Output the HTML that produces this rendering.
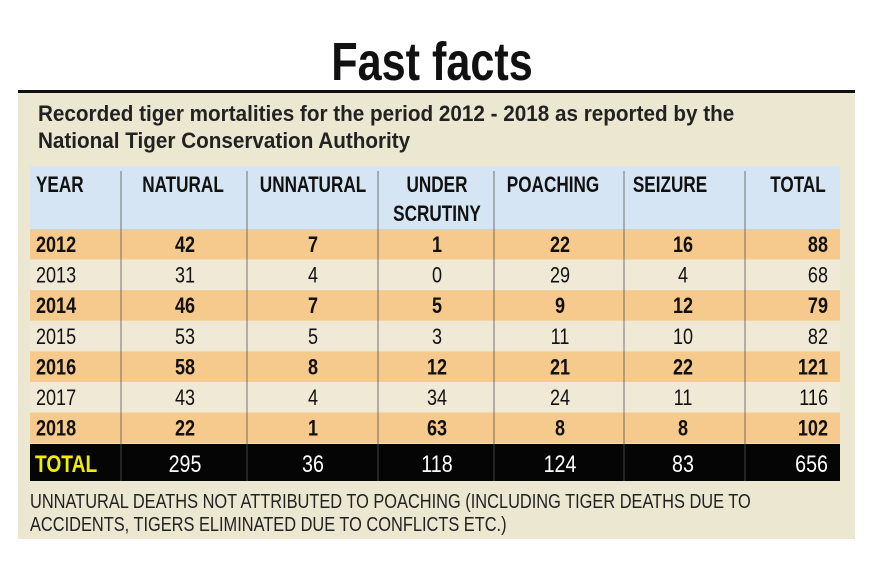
<!DOCTYPE html>
<html><head><meta charset="utf-8"><style>
html,body{margin:0;padding:0;background:#fff;}
svg{display:block;font-family:"Liberation Sans",sans-serif;}
</style></head><body>
<svg id="chart" width="873" height="567" viewBox="0 0 873 567" xmlns="http://www.w3.org/2000/svg">
<rect x="18" y="92" width="837" height="447" fill="#ece7d1"/>
<rect x="18" y="90" width="837" height="3" fill="#111"/>
<text x="432" y="80" text-anchor="middle" font-size="54" font-weight="bold" fill="#111" transform="translate(432,0) scale(0.8,1) translate(-432,0)">Fast facts</text>
<text x="38" y="121" font-size="22" font-weight="bold" fill="#222" transform="translate(38,0) scale(0.94,1) translate(-38,0)">Recorded tiger mortalities for the period 2012 - 2018 as reported by the</text>
<text x="38" y="148" font-size="22" font-weight="bold" fill="#222" transform="translate(38,0) scale(0.94,1) translate(-38,0)">National Tiger Conservation Authority</text>
<rect x="30" y="166" width="810" height="63" fill="#d5e5f3"/>
<g id="rows"></g>
<g id="dividers"></g>
<g id="texts"></g>
<text x="30" y="508" font-size="20" fill="#222" transform="translate(30,0) scale(0.82,1) translate(-30,0)">UNNATURAL DEATHS NOT ATTRIBUTED TO POACHING (INCLUDING TIGER DEATHS DUE TO</text>
<text x="30" y="531" font-size="20" fill="#222" transform="translate(30,0) scale(0.82,1) translate(-30,0)">ACCIDENTS, TIGERS ELIMINATED DUE TO CONFLICTS ETC.)</text>
</svg>
<script>
const years = ["2012","2013","2014","2015","2016","2017","2018"];
const natural = [42,31,46,53,58,43,22];
const unnatural = [7,4,7,5,8,4,1];
const underScrutiny = [1,0,5,3,12,34,63];
const poaching = [22,29,9,11,21,24,8];
const seizure = [16,4,12,10,22,11,8];
const totals = [88,68,79,82,121,116,102];
const columnTotals = [295,36,118,124,83,656];
const headers = ["YEAR","NATURAL","UNNATURAL","UNDER","POACHING","SEIZURE","TOTAL"];

const NS="http://www.w3.org/2000/svg";
const colEdges=[30,121,247,378,494,624,745,840];
const rowTop=229, rowH=30.6, totalTop=444, totalH=37;
function txt(parent,s,x,y,opts){
  const t=document.createElementNS(NS,"text");
  t.setAttribute("x",x);t.setAttribute("y",y);
  t.setAttribute("font-size",opts.size||22);
  if(opts.bold)t.setAttribute("font-weight","bold");
  t.setAttribute("fill",opts.fill||"#111");
  t.setAttribute("text-anchor",opts.anchor||"middle");
  t.setAttribute("transform",`translate(${x},0) scale(${opts.sx||0.82},1) translate(${-x},0)`);
  t.textContent=s;parent.appendChild(t);return t;
}
const rowsG=document.getElementById("rows"),divG=document.getElementById("dividers"),tG=document.getElementById("texts");
years.forEach((y,i)=>{
  const r=document.createElementNS(NS,"rect");
  r.setAttribute("x",30);r.setAttribute("y",rowTop+i*rowH);r.setAttribute("width",810);r.setAttribute("height",rowH);
  r.setAttribute("fill",i%2===0?"#f6c98d":"#efe9d6");
  
  
  rowsG.appendChild(r);
});
const tr=document.createElementNS(NS,"rect");
tr.setAttribute("x",30);tr.setAttribute("y",totalTop);tr.setAttribute("width",810);tr.setAttribute("height",totalH);tr.setAttribute("fill","#050505");


rowsG.appendChild(tr);
colEdges.slice(1,-1).forEach((x,i)=>{
  const l=document.createElementNS(NS,"line");
  l.setAttribute("x1",x);l.setAttribute("x2",x);l.setAttribute("y1",171);l.setAttribute("y2",totalTop+totalH);
  l.setAttribute("stroke","#555");l.setAttribute("stroke-width","0.8");
  
  
  divG.appendChild(l);
});
const hx=[36,183,313,437,553,670,798];
headers.forEach((h,i)=>{
  const t=txt(tG,h,hx[i],192,{bold:true,size:22,anchor:i===0?"start":"middle",sx:0.78});
  
  
});
const st=txt(tG,"SCRUTINY",437,221,{bold:true,size:22,sx:0.78});


const cx=[185,313,437,560,683];
const series=[natural,unnatural,underScrutiny,poaching,seizure];
years.forEach((y,i)=>{
  const by=rowTop+i*rowH+23;
  const bold=i%2===0;
  const yt=txt(tG,y,36,by,{bold,size:22,anchor:"start"});
  
  
  series.forEach((s,j)=>{
    const c=txt(tG,String(s[i]),cx[j],by,{bold,size:22});
    
    
  });
  const tt=txt(tG,String(totals[i]),828,by,{bold,size:22,anchor:"end"});
  
  
});
const tl=txt(tG,"TOTAL",35,totalTop+28,{bold:true,size:24,anchor:"start",fill:"#f2ee00",sx:0.8});


columnTotals.forEach((v,j)=>{
  const x=j<5?cx[j]:828;
  const c=txt(tG,String(v),x,totalTop+28,{size:24,anchor:j<5?"middle":"end",fill:"#fff"});
  
  
});
</script>
</body></html>
